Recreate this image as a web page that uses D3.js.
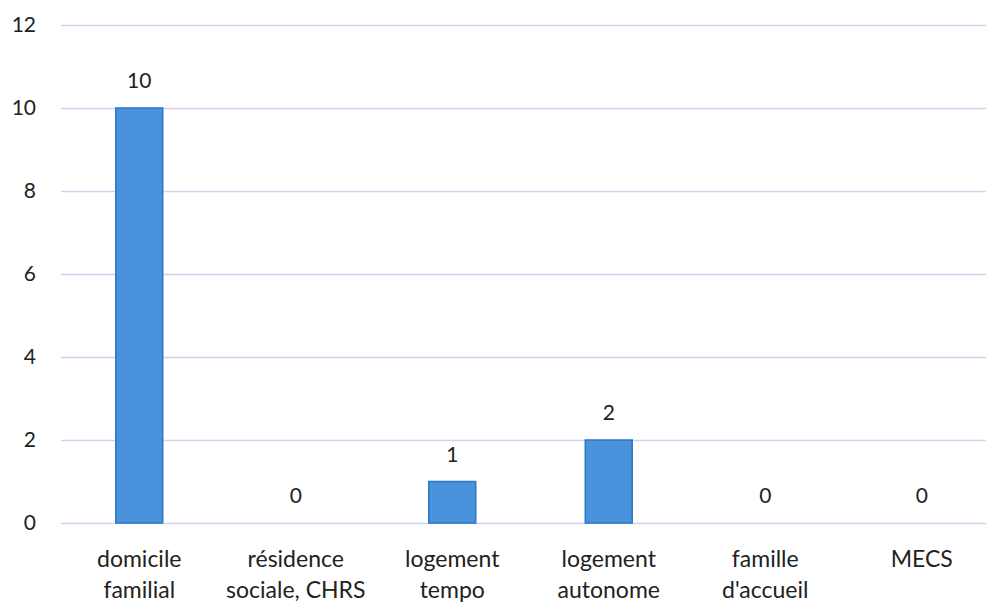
<!DOCTYPE html>
<html>
<head>
<meta charset="utf-8">
<script src="https://cdn.jsdelivr.net/npm/d3@7/dist/d3.min.js"></script>
<style>
  html, body { margin: 0; padding: 0; background: #fff; }
  svg { display: block; font-family: Lato, "Noto Sans", sans-serif; }
</style>
</head>
<body>
<svg id="chart" width="986" height="603"></svg>
<script>
// Lieu de vie des personnes accompagnées
const categories = [
  ["domicile", "familial"],
  ["résidence", "sociale, CHRS"],
  ["logement", "tempo"],
  ["logement", "autonome"],
  ["famille", "d'accueil"],
  ["MECS"]
];
const values = [10, 0, 1, 2, 0, 0];
const yTicks = [0, 2, 4, 6, 8, 10, 12];

const svg = d3.select("#chart");
const W = 986, H = 603;
const margin = { left: 61, right: -14, top: 25, bottom: 80 };

const keys = categories.map((c, i) => i);
const x = d3.scaleBand()
  .domain(keys)
  .range([margin.left, W - margin.right])
  .paddingInner(0.7)
  .paddingOuter(0.35);

const y = d3.scaleLinear()
  .domain([0, 12])
  .range([H - margin.bottom, margin.top]);

// horizontal gridlines
svg.append("g")
  .selectAll("line")
  .data(yTicks)
  .join("line")
  .attr("x1", margin.left)
  .attr("x2", W)
  .attr("y1", d => y(d) + 0.5)
  .attr("y2", d => y(d) + 0.5)
  .attr("stroke", "#d2d2ec")
  .attr("stroke-width", 1.3);

// y axis labels
const yAxis = d3.axisLeft(y).tickValues(yTicks).tickSize(0).tickPadding(0);
const gy = svg.append("g")
  .attr("transform", `translate(${margin.left - 25},0)`)
  .call(yAxis);
gy.select(".domain").remove();
gy.selectAll("text")
  .attr("font-size", 21)
  .attr("font-family", "Lato, 'Noto Sans', sans-serif")
  .attr("fill", "#222");

// bars
svg.append("g")
  .selectAll("rect")
  .data(values)
  .join("rect")
  .attr("x", (d, i) => x(i))
  .attr("y", d => y(d))
  .attr("width", x.bandwidth())
  .attr("height", d => y(0) - y(d))
  .attr("fill", "#4a92dc")
  .attr("stroke", "#2a78c6")
  .attr("stroke-width", 1.5);

// value labels
svg.append("g")
  .selectAll("text")
  .data(values)
  .join("text")
  .attr("x", (d, i) => x(i) + x.bandwidth() / 2)
  .attr("y", d => y(d) - 20)
  .attr("text-anchor", "middle")
  .attr("font-size", 21)
  .attr("fill", "#222")
  .text(d => d);

// category labels
const xl = svg.append("g");
categories.forEach((lines, i) => {
  const t = xl.append("text")
    .attr("x", x(i) + x.bandwidth() / 2)
    .attr("y", y(0) + 44)
    .attr("text-anchor", "middle")
    .attr("font-size", 23)
    .attr("fill", "#222");
  lines.forEach((ln, j) => {
    t.append("tspan")
      .attr("x", x(i) + x.bandwidth() / 2)
      .attr("dy", j === 0 ? 0 : 31)
      .text(ln);
  });
});
</script>
</body>
</html>
